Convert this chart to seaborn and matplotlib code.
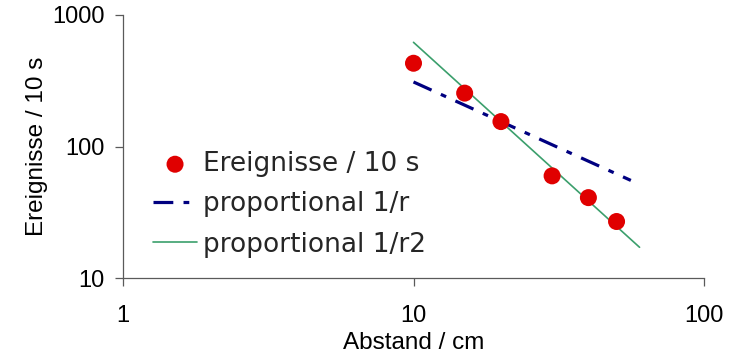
import matplotlib
matplotlib.use("Agg")
import matplotlib.pyplot as plt
import seaborn as sns
import pandas as pd

# Measured counts per 10 s at each distance
abstand_cm = [10, 15, 20, 30, 40, 50]
ereignisse = [430, 255, 155, 60, 41, 27]

# Reference curves (straight lines in log-log space)
r_inv_x = [10, 56]
r_inv_y = [310, 55.4]
r2_inv_x = [10, 60]
r2_inv_y = [620, 17.2]

x_ticks = [1, 10, 100]
y_ticks = [10, 100, 1000]

sns.set_theme(style="white")
plt.rcParams["font.family"] = ["Liberation Sans", "DejaVu Sans"]

fig = plt.figure(figsize=(7.38, 3.55), dpi=100)
ax = fig.add_axes([123 / 738, 1 - 278.3 / 355, (704 - 123) / 738, (278.3 - 15) / 355])

df_pts = pd.DataFrame({"x": abstand_cm, "y": ereignisse})
df_r1 = pd.DataFrame({"x": r_inv_x, "y": r_inv_y})
df_r2 = pd.DataFrame({"x": r2_inv_x, "y": r2_inv_y})

sns.lineplot(data=df_r2, x="x", y="y", ax=ax, color="#3b9f6c", linewidth=1.2,
             label="proportional 1/r2", zorder=2)
sns.lineplot(data=df_r1, x="x", y="y", ax=ax, color="#000080", linewidth=2.3,
             linestyle=(0, (6.2, 3.2, 1.8, 3.2)), label="proportional 1/r", zorder=3)
sns.scatterplot(data=df_pts, x="x", y="y", ax=ax, color="#e00000", s=150,
                edgecolor="none", label="Ereignisse / 10 s", zorder=4)

ax.set_xscale("log")
ax.set_yscale("log")
ax.set_xlim(1, 100)
ax.set_ylim(10, 1000)
ax.set_xticks(x_ticks)
ax.set_xticklabels([str(v) for v in x_ticks])
ax.set_yticks(y_ticks)
ax.set_yticklabels([str(v) for v in y_ticks])
ax.minorticks_off()

for side in ["top", "right"]:
    ax.spines[side].set_visible(False)
for side in ["left", "bottom"]:
    ax.spines[side].set_color("#5a5a5a")
    ax.spines[side].set_linewidth(0.9)

ax.tick_params(axis="both", which="major", direction="out", length=5.5, width=0.9,
               color="#5a5a5a", labelsize=17, labelcolor="black",
               bottom=True, left=True, top=False, right=False)
ax.tick_params(axis="x", pad=14)
ax.tick_params(axis="y", pad=8)
ax.set_facecolor("white")

ax.set_xlabel("Abstand / cm", fontsize=17.5, color="black", labelpad=3.5)
ax.set_ylabel("Ereignisse / 10 s", fontsize=17.5, color="black", labelpad=3)

handles, labels = ax.get_legend_handles_labels()
order = [labels.index("Ereignisse / 10 s"), labels.index("proportional 1/r"),
         labels.index("proportional 1/r2")]
leg = ax.legend([handles[i] for i in order], [labels[i] for i in order],
                loc="upper left", bbox_to_anchor=(30 / 581, 1 - (151 - 15) / 263),
                frameon=False, prop={"family": "DejaVu Sans", "size": 19},
                handlelength=1.67, handletextpad=0.23, labelspacing=0.54,
                borderaxespad=0, borderpad=0)

fig.savefig("out.png", dpi=100, facecolor="white")
